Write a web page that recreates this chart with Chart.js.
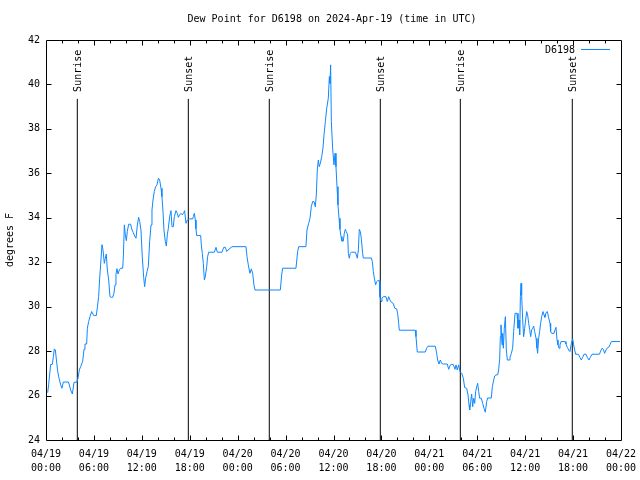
<!DOCTYPE html>
<html><head><meta charset="utf-8">
<script src="https://cdn.jsdelivr.net/npm/chart.js@4.4.1/dist/chart.umd.min.js"></script>
<style>html,body{margin:0;padding:0;background:#fff}#wrap{width:640px;height:480px}</style>
</head><body><div id="wrap"><canvas id="c" width="640" height="480"></canvas></div>
<script>
// Hours since 2024-04-19 00:00 UTC
const hours = [
0.21,0.33,0.50,0.58,0.79,0.92,1.04,1.17,1.29,1.46,1.63,1.84,2.00,2.17,2.80,2.92,3.09,3.30,3.51,3.84,
4.01,4.17,4.34,4.59,4.76,4.88,5.09,5.18,5.34,5.51,5.72,5.97,6.09,6.30,6.43,6.59,6.72,6.84,7.01,7.14,
7.30,7.43,7.55,7.68,7.85,8.01,8.18,8.35,8.51,8.64,8.76,8.89,9.02,9.18,9.35,9.60,9.68,9.81,9.93,10.06,
10.18,10.35,10.60,10.77,10.93,11.10,11.27,11.44,11.60,11.73,11.89,12.06,12.23,12.35,12.48,12.65,12.81,12.98,13.15,13.27,
13.40,13.56,13.73,13.90,14.07,14.23,14.40,14.52,14.65,14.77,14.94,15.07,15.19,15.32,15.48,15.65,15.78,15.94,16.07,16.28,
16.44,16.57,16.74,16.90,17.07,17.24,17.36,17.53,17.70,17.86,
17.95,18.37,18.45,18.57,18.70,18.78,18.87,19.37,19.45,19.57,19.70,19.83,19.95,20.12,20.24,20.37,21.08,21.29,21.45,22.04,
22.25,22.46,22.62,22.79,23.04,23.29,25.04,25.17,25.33,25.54,25.71,25.88,26.04,26.17,29.34,29.51,29.63,31.30,31.51,31.64,
32.55,32.68,32.89,33.06,33.22,33.39,33.56,33.72,33.85,33.97,34.10,34.22,34.35,34.52,34.68,34.81,34.98,35.14,35.35,35.48,
35.56,35.64,35.73,35.89,
36.06,36.19,36.31,36.44,36.56,36.69,36.81,36.94,37.06,37.23,37.35,37.48,37.60,37.77,37.86,37.98,38.10,38.23,38.73,38.86,
38.98,39.11,39.23,39.36,39.48,39.65,39.73,40.74,40.86,40.99,41.11,41.28,41.40,41.53,41.74,41.82,41.95,42.07,42.24,42.57,
42.74,42.91,43.07,43.24,43.49,43.66,43.91,44.03,44.16,44.24,46.24,46.33,46.49,47.50,47.66,47.83,48.75,48.92,49.04,49.21,
49.37,49.54,49.75,50.25,50.42,50.58,50.75,51.00,51.21,51.34,51.50,51.67,
51.84,52.05,52.26,52.42,52.67,52.84,52.97,53.05,53.18,53.30,53.43,53.55,53.68,53.80,53.93,54.05,54.18,54.30,54.51,54.68,
54.84,55.01,55.18,55.30,55.76,55.89,56.06,56.18,56.35,56.56,56.68,56.81,56.89,56.97,57.10,57.18,57.27,57.39,57.52,57.64,
57.77,57.98,58.10,58.27,58.43,58.56,58.73,58.98,59.10,59.23,59.31,59.40,59.48,59.56,59.69,59.81,59.94,60.06,60.19,60.31,
60.44,60.56,60.69,60.81,60.94,61.06,61.19,61.36,61.48,61.56,61.69,61.81,61.94,62.07,62.23,62.36,62.48,62.61,62.78,62.94,
63.11,63.19,63.32,63.61,63.73,63.86,63.99,64.11,64.24,64.36,64.49,64.99,65.11,65.28,65.45,65.61,65.78,65.95,66.07,66.20,
66.32,66.66,66.86,67.03,67.20,67.37,67.62,67.78,67.99,68.16,68.37,69.30,69.45,69.62,69.79,69.95,70.12,70.25,70.45,70.62,
70.79,71.87
];
// Dew point, degrees F
const dewPoint = [
26.13,26.48,27.10,27.40,27.40,27.75,28.10,28.05,27.65,27.10,26.78,26.48,26.33,26.61,26.61,26.48,26.25,26.07,26.60,26.60,
26.78,27.15,27.30,27.53,28.08,28.32,28.32,29.03,29.33,29.55,29.78,29.60,29.60,29.60,29.97,30.45,31.28,31.88,32.79,32.55,
31.95,32.18,32.37,31.65,31.20,30.45,30.42,30.42,30.60,30.98,31.46,31.71,31.47,31.65,31.73,31.73,32.20,33.68,33.23,32.97,
33.38,33.71,33.71,33.45,33.33,33.18,33.08,33.68,34.02,33.83,33.45,32.22,31.32,30.90,31.28,31.58,31.80,32.93,33.68,34.35,
34.80,35.18,35.40,35.48,35.78,35.70,35.33,34.95,34.28,33.45,32.93,32.73,33.23,33.53,34.05,34.32,33.60,33.60,34.05,34.32,
34.20,34.02,34.13,34.20,34.13,34.23,34.32,33.75,33.90,33.93,
33.95,33.95,34.05,34.20,33.90,33.50,33.20,33.20,32.78,32.40,31.95,31.20,31.35,31.80,32.25,32.45,32.45,32.67,32.45,32.45,
32.67,32.67,32.48,32.55,32.62,32.70,32.70,32.25,31.88,31.50,31.70,31.50,30.98,30.75,30.75,31.43,31.73,31.73,32.48,32.70,
32.70,33.45,33.75,33.98,34.50,34.73,34.73,34.50,35.03,36.15,36.60,36.30,36.45,36.75,37.13,37.73,38.33,38.90,39.38,40.35,
40.05,40.88,38.33,37.13,
36.38,36.90,36.30,35.40,34.58,33.98,33.48,33.15,32.95,32.95,33.30,33.48,33.38,33.23,32.40,32.18,32.40,32.45,32.45,32.33,
32.18,32.55,33.48,33.38,33.08,32.40,32.19,32.19,32.03,31.58,31.28,30.98,31.13,31.17,31.17,30.45,30.23,30.38,30.45,30.45,
30.23,30.45,30.30,30.20,30.15,29.93,29.90,29.70,29.25,28.94,28.94,28.65,27.96,27.96,28.13,28.22,28.22,27.90,27.60,27.42,
27.60,27.45,27.42,27.42,27.18,27.35,27.40,27.40,27.18,27.38,27.15,27.38,
27.08,27.00,26.78,26.36,26.33,26.03,25.58,25.35,25.73,26.07,25.50,25.88,25.65,26.18,26.40,26.55,26.18,25.88,25.88,25.65,
25.43,25.25,25.73,25.89,25.89,26.40,26.70,26.88,26.93,26.93,27.15,27.68,28.65,29.18,28.28,28.80,28.13,29.03,29.55,28.05,
27.60,27.60,27.72,27.90,28.13,28.88,29.70,29.70,29.03,29.40,28.73,30.45,31.05,30.53,29.40,28.65,29.03,29.40,29.78,29.63,
29.25,28.98,28.65,28.95,29.03,29.13,28.88,28.58,28.13,27.90,28.58,28.88,29.25,29.55,29.78,29.63,29.52,29.73,29.78,29.50,
29.25,28.88,28.80,28.80,28.95,29.07,28.50,28.28,28.13,28.28,28.43,28.43,28.32,28.17,28.05,27.98,28.35,28.55,28.28,28.05,
27.86,27.86,27.72,27.60,27.72,27.86,27.86,27.72,27.60,27.72,27.86,27.86,28.00,28.13,28.08,27.90,28.05,28.13,28.17,28.28,
28.43,28.43
];
const sunEventHours = [3.92, 17.82, 27.96, 41.86, 51.88, 65.90];
const sunEventLabels = ['Sunrise','Sunset','Sunrise','Sunset','Sunrise','Sunset'];
const sunLineTop = 39.35;
const seriesName = 'D6198';
const chartTitle = 'Dew Point for D6198 on 2024-Apr-19 (time in UTC)';
const yAxisTitle = 'degrees F';
const xMin = 0, xMax = 72, xStep = 2, xLabelEvery = 6;
const yMin = 24, yMax = 42, yStep = 2;
const startDay = 19, monthLabel = '04';

const FONT = 'DejaVu Sans Mono';
const pts = hours.map((h, i) => ({x: h, y: dewPoint[i]}));
const datasets = [{
  label: seriesName, data: pts, borderColor: '#0f87ff', borderWidth: 1,
  pointRadius: 0, tension: 0, fill: false
}];
sunEventHours.forEach((h, i) => {
  datasets.push({label: sunEventLabels[i], data: [{x: h, y: yMin}, {x: h, y: sunLineTop}],
    borderColor: '#000', borderWidth: 1, pointRadius: 0, fill: false});
});

function pad2(n){ return (n < 10 ? '0' : '') + n; }

const gnuplotDecor = {
  id: 'gnuplotDecor',
  afterDatasetsDraw(chart) {
    const {ctx, chartArea: a, scales: {x, y}} = chart;
    ctx.save();
    ctx.strokeStyle = '#000';
    ctx.lineWidth = 1;
    const L = Math.round(a.left) + 0.5, R = Math.round(a.right) + 0.5;
    const T = Math.round(a.top) + 0.5, B = Math.round(a.bottom) + 0.5;
    ctx.beginPath();
    ctx.rect(L, T, R - L, B - T);
    ctx.stroke();
    ctx.beginPath();
    x.ticks.forEach(t => {
      if (t.value <= xMin || t.value >= xMax) return;
      const px = Math.round(x.getPixelForValue(t.value)) + 0.5;
      const len = (t.value % xLabelEvery === 0) ? 5 : 3;
      ctx.moveTo(px, B); ctx.lineTo(px, B - len);
      ctx.moveTo(px, T); ctx.lineTo(px, T + len);
    });
    y.ticks.forEach(t => {
      if (t.value <= yMin || t.value >= yMax) return;
      const py = Math.round(y.getPixelForValue(t.value)) + 0.5;
      ctx.moveTo(L, py); ctx.lineTo(L + 5, py);
      ctx.moveTo(R, py); ctx.lineTo(R - 5, py);
    });
    ctx.stroke();
    ctx.fillStyle = '#000';
    ctx.font = '10px "' + FONT + '"';
    // title
    ctx.textAlign = 'center';
    ctx.textBaseline = 'middle';
    ctx.fillText(chartTitle, 332, 19);
    // sun labels
    ctx.textAlign = 'left';
    const labelStartY = y.getPixelForValue(sunLineTop) - 7;
    sunEventHours.forEach((h, i) => {
      const px = x.getPixelForValue(h) + 1;
      ctx.save();
      ctx.translate(px, labelStartY);
      ctx.rotate(-Math.PI / 2);
      ctx.fillText(sunEventLabels[i], 0, 0);
      ctx.restore();
    });
    // legend
    ctx.textAlign = 'right';
    const ly = a.top + 10;
    ctx.fillText(seriesName, a.right - 46, ly);
    ctx.strokeStyle = datasets[0].borderColor;
    ctx.beginPath();
    ctx.moveTo(a.right - 40, Math.round(ly) - 0.5);
    ctx.lineTo(a.right - 11, Math.round(ly) - 0.5);
    ctx.stroke();
    ctx.restore();
  }
};

new Chart(document.getElementById('c'), {
  type: 'line',
  data: {datasets},
  options: {
    responsive: false, animation: false, devicePixelRatio: 1,
    layout: {padding: {left: 0, right: 0, top: 40, bottom: 0}},
    plugins: {
      legend: {display: false}, tooltip: {enabled: false}, title: {display: false}
    },
    scales: {
      x: {
        type: 'linear', min: xMin, max: xMax,
        grid: {display: false, drawTicks: false}, border: {display: false},
        ticks: {
          stepSize: xStep, autoSkip: false, maxRotation: 0, padding: 7, color: '#000',
          font: {family: FONT, size: 10, lineHeight: 1.4},
          callback: (v) => {
            if (v % xLabelEvery !== 0) return '';
            const d = startDay + Math.floor(v / 24);
            const hh = v % 24;
            return [monthLabel + '/' + pad2(d), pad2(hh) + ':00'];
          }
        },
        afterFit: (s) => { s.height = 40; s.paddingRight = 19; s.paddingLeft = 0; }
      },
      y: {
        min: yMin, max: yMax,
        grid: {display: false, drawTicks: false}, border: {display: false},
        ticks: {stepSize: yStep, padding: 6, color: '#000', font: {family: FONT, size: 10}},
        title: {display: true, text: yAxisTitle, color: '#000',
          font: {family: FONT, size: 10, lineHeight: 1.2}, padding: {top: 4, bottom: 0}},
        afterFit: (s) => { s.width = 46; s.paddingTop = 0; s.paddingBottom = 0; }
      }
    }
  },
  plugins: [gnuplotDecor]
});
</script></body></html>
